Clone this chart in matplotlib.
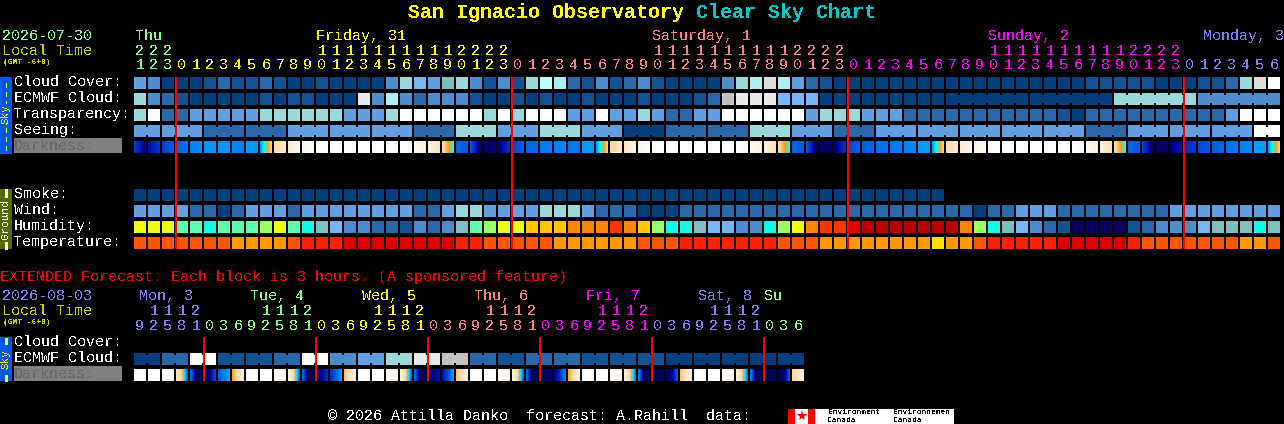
import numpy as np
import matplotlib
matplotlib.use("Agg")
import matplotlib.pyplot as plt
from matplotlib.colors import LinearSegmentedColormap
from matplotlib.patches import Rectangle

# ---------- palettes ----------
SKY = ['#033f7f', '#135393', '#2a69a9', '#4d8dcd', '#60a0e0', '#76b6f6',
       '#99d9d9', '#aeeeee', '#bdffff', '#e9e9e9', '#c2c2c2', '#ffffff',
       '#7fbfbf', '#dcdcdc', '#0a0060']
HUM = {'y': '#eaff14', 'g': '#5affb0', 'c': '#0affe6', 'l': '#99ff66', 'o': '#ff8800',
       'd': '#ffc800', 'r': '#ff3300', 'e': '#e60000', 'k': '#b80000', 't': '#7fbfbf',
       '5': '#76b6f6', '3': '#4d8dcd', '2': '#2a69a9', '1': '#135393', 'n': '#0a0060'}
TMP = {'a': '#ff5500', 'b': '#ff9900', 'c': '#ff2000', 'd': '#e00000', 'e': '#ffe000'}
DARK_STOPS = ['#000050', '#000090', '#0030c8', '#0060e0', '#0080f8', '#00a0ff',
              '#00ffff', '#ffa020', '#ffd8a0', '#ffeedd', '#ffffff']

# ---------- main forecast ----------
cloud_cover = [4,3,0,0,0,1,2,1,1,2,1,0,0,1,0,0,0,0,3,6,5,
               4,12,6,3,1,3,1,6,8,7,2,1,3,1,2,3,1,0,0,0,0,3,6,7,13,7,4,2,1,0,0,
               0,0,0,0,0,0,0,0,0,0,0,0,0,0,0,0,1,1,1,1,1,0,0,0,1,1,2,6,13,11]
ecmwf_cloud = [6,3,2,1,0,0,0,0,0,1,0,1,1,0,0,0,9,3,7,3,2,
               3,3,3,1,0,0,1,0,1,0,0,1,0,0,0,1,0,0,0,1,2,10,9,9,9,5,5,5,0,0,0,
               0,0,0,0,0,0,0,0,0,0,0,0,0,0,0,0,0,0,6,6,6,6,6,6,3,3,3,3,3,3]
transparency = [6,11,2,2,4,4,4,4,4,6,6,6,6,6,6,4,4,4,6,11,11,
                11,11,11,11,6,11,6,11,11,11,4,4,11,4,4,6,4,2,2,4,4,11,11,11,11,11,11,4,6,6,6,
                4,4,4,2,2,2,2,2,2,2,2,2,2,2,1,0,2,2,2,2,2,2,2,2,2,2,4,11,11,11]
seeing = [4,4, 4,4,4, 2,2,2, 2,2,2, 4,4,4, 4,4,4, 4,4,4, 2,2,2, 6,6,6, 4,4,4, 6,6,6,
          4,4,4, 0,0,0, 2,2,2, 2,2,2, 6,6,6, 4,4,4, 2,2,2, 4,4,4, 4,4,4, 4,4,4, 4,4,4,
          4,4,4, 2,2,2, 4,4,4, 4,4,4, 4,4,4, 11,11]
dark_left = [2.2,1.3,2.2,3.2,4,4.5,4.8,4.2,4.8,5,8,8.8,9.5,10,10,10,10,10,10,10,9.5,9,8.2,
             3,2.8,.2,.8,2.5,3.2,3.8,4,3.8,4.8,5,8,8.6,9.3,10,10,10,10,10,10,10,9.5,9,8.2,
             3,2.8,.2,.8,2.5,3,3.5,3.8,4,4.8,5,8.2,8.8,9.2,10,10,10,10,10,10,10,9.5,9,8.2,
             3,2.5,.3,.8,2,2.5,3,3.5,4,5,5]
dark_right = [1,2.2,3,3.6,4.4,4.8,4.6,4,4.8,7.8,8.7,9.4,10,10,10,10,10,10,10,9.5,9,8.5,6,
              3,.2,.8,2,3,3.3,4,4.2,3.8,5,7.8,8.6,9.2,9.8,10,10,10,10,10,10,9.6,9,8.4,6,
              3,.2,.5,2,3,3.3,3.8,4,4.3,5,7.8,8.8,9.3,9.8,10,10,10,10,10,10,9.6,9,8.4,6,
              3,.3,.5,1.5,2.2,2.8,3.2,3.8,4.2,5,7.8]
smoke = [0] * 58
wind = [4,4,4,4,2,2,0,2,4,4,4,2,4,4,4,4,4,4,4,4,2,
        2,4,6,6,4,4,4,4,6,6,6,4,2,2,2,0,0,0,2,2,2,2,2,2,2,2,2,2,2,2,2,
        2,2,2,2,2,2,2,2,0,2,2,4,4,4,2,2,2,2,2,2,2,2,4,4,4,4,4,4,4,4]
humidity = list("yyyggcgggly" "gct5" "33221" "3" "23tgly" "yddd" "ooo" "rodlcct" "55" "33clyorre"
                "kkkkkkk" "olct" "53" "21" "nnnn" "123" "33" "5ttt" "ct")
temperature = list("aaaaaaabbbbacccdddddd" "dd" "cc" "aaaaa" "bbbbbb" "aaa" "ccccccc" "aaa" "bbb"
                   "bbbbb" "e" "bb" "a" "ccccc" "ddddd" "c" "aaaaaaa" "bb" "a")

hours = [21, 22, 23] + list(range(24)) * 3 + list(range(7))
hour_colors = ['#80ff80'] * 3 + ['#ffff00'] * 24 + ['#ff8080'] * 24 + ['#ff00ff'] * 24 + ['#8080ff'] * 7
day_labels = ['Thu', 'Friday, 31', 'Saturday, 1', 'Sunday, 2', 'Monday, 3']
day_x = [135, 316, 652, 988, 1203]
day_colors = ['#80ff80', '#ffff00', '#ff8080', '#ff00ff', '#8080ff']
midnight_cols = [3, 27, 51, 75]

sky_rows = ['Cloud Cover:', 'ECMWF Cloud:', 'Transparency:', 'Seeing:']
ground_rows = ['Smoke:', 'Wind:', 'Humidity:', 'Temperature:']

# ---------- extended forecast ----------
ext_ecmwf = [0,2,11,1,1,2,11,3,4,6,9,10,2,1,2,2,1,1,1,0,0,0,0,0]  # one value per 2-block group
ext_dark_l = [9.6,10,10,8.6,3.5,.3,3,7,9.6,10,10,9,3.5,1,2,7.5,10,10,10,9,3.5,.5,1.5,7.5,
              10,10,10,9,3.5,.2,1,7,10,10,10,9,4,.1,.3,7.5,10,10,10,9,4,.1,.1,8]
ext_dark_m = [10,10,10,7.8,.4,1,4,8.4,10,10,9.8,8,.2,1,3,8.5,10,10,9.8,8,.2,1,2.5,8.4,
              10,10,9.8,8,.2,.3,2,8.4,10,10,9.8,8,.2,.2,1,8.5,10,10,9.8,8,.2,.1,.5,8.5]
ext_dark_r = [10,10,9.2,3.5,.2,2.5,5,9,10,10,9.3,3.5,.1,2,5,9,10,10,9.3,3.5,.1,1.5,5,9,
              10,10,9.3,3.5,.1,.5,4,9,10,10,9.3,4,.1,.2,3,9,10,10,9.3,4,.1,.1,3,9]
ext_hours = [9, 12, 15, 18, 21] + [0, 3, 6, 9, 12, 15, 18, 21] * 5 + [0, 3, 6]
ext_hour_colors = (['#8080ff'] * 5 + ['#80ff80'] * 8 + ['#ffff00'] * 8 + ['#ff8080'] * 8 +
                   ['#ff00ff'] * 8 + ['#8080ff'] * 8 + ['#80ff80'] * 3)
ext_day_labels = ['Mon, 3', 'Tue, 4', 'Wed, 5', 'Thu, 6', 'Fri, 7', 'Sat, 8', 'Su']
ext_day_x = [139, 250, 362, 474, 586, 698, 764]
ext_day_colors = ['#8080ff', '#80ff80', '#ffff00', '#ff8080', '#ff00ff', '#8080ff', '#80ff80']
ext_midnight_cols = [5, 13, 21, 29, 37, 45]

# ---------- figure ----------
W, H = 1284, 424
fig = plt.figure(figsize=(W / 100, H / 100), dpi=100, facecolor='black')
ax = fig.add_axes([0, 0, 1, 1], facecolor='black')
ax.set_axis_off()

MONO = 'Liberation Mono'
PX = 72 / 100

def txt(x, y, s, color='white', px=15, bold=False, ha='left', rot=0, aa=False):
    t = ax.text(x, y + (1 if rot == 0 else 0), s, color=color, fontsize=px * PX, family=MONO,
                weight='bold' if bold else 'normal', ha=ha, va='center', rotation=rot,
                rotation_mode='anchor' if rot == 0 else 'default', zorder=6)
    t.set_antialiased(aa)
    return t

def rect(x0, y0, w, h, color, z=2):
    ax.add_patch(Rectangle((x0, y0), w, h, facecolor=color, edgecolor='none', linewidth=0,
                           antialiased=False, zorder=z))

def colx(i):
    return 134 + 14 * i

def row(values, y, palette, linked=None):
    for i, v in enumerate(values):
        rect(colx(i), y, 12, 12, palette[v])
        if linked is not None and i + 1 < len(values) and linked(i):
            rect(colx(i) + 12, y + 2, 2, 8, palette[v])

dark_cmap = LinearSegmentedColormap.from_list('dark', [(k / 10, c) for k, c in enumerate(DARK_STOPS)], N=512)

def dark_block(i, y, stops):
    pos = np.linspace(0, 1, 12)
    vals = np.interp(pos, np.linspace(0, 1, len(stops)), stops)
    ax.imshow(vals[None, :], cmap=dark_cmap, vmin=0, vmax=10, aspect='auto', interpolation='nearest',
              extent=(colx(i), colx(i) + 12, y + 12, y), zorder=2)

# title
txt(408, 11, 'San Ignacio Observatory', '#ffff00', 20, True)
txt(696, 11, 'Clear Sky Chart', '#00c8c8', 20, True)

# header
txt(2, 35, '2026-07-30', '#80ff80')
txt(2, 50, 'Local Time', '#d0d000')
txt(3, 61, '(GMT -6+0)', '#d0d000', 8, True)
for s, x, c in zip(day_labels, day_x, day_colors):
    txt(x, 35, s, c)
for i, (h, c) in enumerate(zip(hours, hour_colors)):
    if h >= 10:
        txt(colx(i) + 6, 50, str(h // 10), c, ha='center')
    txt(colx(i) + 6, 64, str(h % 10), c, ha='center')

# side bars
rect(0, 77, 12, 77, '#0058e8')
ax.plot([5.5, 5.5], [83, 103], color='#ffff00', lw=1, dashes=(3, 3), zorder=3, antialiased=False)
ax.plot([5.5, 5.5], [128, 150], color='#ffff00', lw=1, dashes=(3, 3), zorder=3, antialiased=False)
txt(5.5, 114, 'Sky', '#ffff00', 11, ha='center', rot=90)
rect(0, 189, 12, 60, '#556b00')
ax.plot([5.5, 5.5], [190, 196], color='white', lw=1, zorder=3, antialiased=False)
ax.plot([5.5, 5.5], [243, 248], color='white', lw=1, zorder=3, antialiased=False)
txt(5.5, 219, 'Ground', 'white', 11, ha='center', rot=90)

# row labels
for k, s in enumerate(sky_rows):
    txt(14, 81 + 16 * k, s)
rect(14, 138, 108, 15, '#808080')
txt(14, 145, 'Darkness:', '#666666')
for k, s in enumerate(ground_rows):
    txt(14, 193 + 16 * k, s)

# main rows
row(cloud_cover, 77, SKY)
row(ecmwf_cloud, 93, SKY, linked=lambda i: i >= 58 and (i - 58) % 6 != 5)
row(transparency, 109, SKY)
row(seeing, 125, SKY, linked=lambda i: (i + 1) // 3 == (i + 2) // 3)
for i, (a, b) in enumerate(zip(dark_left, dark_right)):
    dark_block(i, 141, [a, b])
row(smoke, 189, SKY)
row(wind, 205, SKY)
row(humidity, 221, HUM)
row(temperature, 237, TMP)
for c in midnight_cols:
    rect(colx(c) - 1, 77, 2, 172, '#ff0000', z=4)

# extended
txt(0, 276, 'EXTENDED Forecast. Each block is 3 hours. (A sponsored feature)', '#ff0000')
txt(2, 295, '2026-08-03', '#8080ff')
txt(2, 310, 'Local Time', '#d0d000')
txt(3, 322, '(GMT -6+0)', '#d0d000', 8, True)
for s, x, c in zip(ext_day_labels, ext_day_x, ext_day_colors):
    txt(x, 295, s, c)
for i, (h, c) in enumerate(zip(ext_hours, ext_hour_colors)):
    if h >= 10:
        txt(colx(i) + 6, 310, str(h // 10), c, ha='center')
    txt(colx(i) + 6, 325, str(h % 10), c, ha='center')
rect(0, 337, 12, 44, '#0058e8')
ax.plot([5.5, 5.5], [339, 343], color='#ffff00', lw=1, zorder=3, antialiased=False)
ax.plot([5.5, 5.5], [376, 380], color='#ffff00', lw=1, zorder=3, antialiased=False)
txt(5.5, 359, 'Sky', '#ffff00', 11, ha='center', rot=90)
txt(14, 341, 'Cloud Cover:')
txt(14, 357, 'ECMWF Cloud:')
rect(14, 366, 108, 15, '#808080')
txt(14, 373, 'Darkness:', '#666666')
ext_ecmwf_cols = [v for v in ext_ecmwf for _ in range(2)]
row(ext_ecmwf_cols, 353, SKY, linked=lambda i: i % 2 == 0)
for i, st in enumerate(zip(ext_dark_l, ext_dark_m, ext_dark_r)):
    dark_block(i, 369, list(st))
for c in ext_midnight_cols:
    rect(colx(c) - 1, 337, 2, 44, '#ff0000', z=4)

# footer
txt(328, 415, '\u00a9 2026 Attilla Danko  forecast: A.Rahill  data:')
rect(788, 409, 166, 15, 'white')
rect(788, 409, 7, 15, '#ff0000')
rect(808, 409, 7, 15, '#ff0000')
ax.plot([801.5], [416], marker='*', ms=8, mfc='#ff0000', mec='#ff0000', mew=0, zorder=3)
txt(828, 412, 'Environment', 'black', 8)
txt(828, 419, 'Canada', 'black', 8)
txt(893, 412, 'Environnemen', 'black', 8)
txt(893, 419, 'Canada', 'black', 8)

ax.set_xlim(0, W)
ax.set_ylim(H, 0)
fig.savefig('out.png', dpi=100, facecolor='black')
